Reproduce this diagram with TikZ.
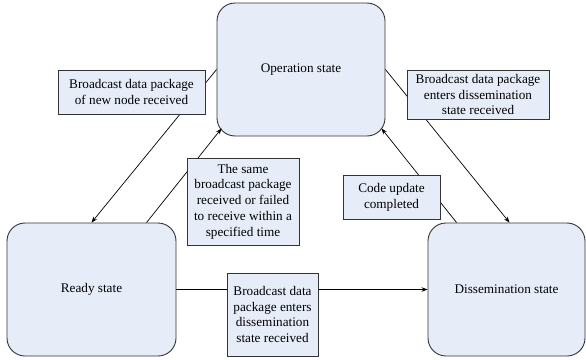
\documentclass[tikz,border=0pt]{standalone}
\usepackage{fontspec}
\setmainfont{Liberation Serif}
\usetikzlibrary{arrows.meta,calc}
\definecolor{boxfill}{HTML}{E7EDF8}
\definecolor{boxline}{HTML}{333333}
\tikzset{
  txt/.style={font=\fontsize{13.2}{15.8}\selectfont, text=black},
  statebox/.style={txt, draw=boxline, fill=boxfill, line width=0.9pt, rounded corners=18pt, inner sep=0pt},
  labelbox/.style={txt, draw=boxline, fill=boxfill, line width=0.8pt, inner sep=0pt, align=center},
  conn/.style={draw=black, line width=0.7pt},
  arr/.style={conn, -{Stealth[length=6pt,width=4.5pt]}}
}
\begin{document}
\begin{tikzpicture}[x=1pt,y=-1pt]
\useasboundingbox (0,0) rectangle (586,359);
% states
\node[statebox, minimum width=168pt, minimum height=133pt] (op) at (301,69.5) {Operation state};
\node[statebox, minimum width=169pt, minimum height=133pt] (ready) at (91.5,289.5) {Ready state};
\node[statebox, minimum width=157pt, minimum height=133pt] (diss) at (506.5,289.5) {Dissemination state};
% connectors
\draw[arr] (op.west) -- (ready.north);
\draw[arr] ($(ready.north west)+(140,0)$) -- ($(op.south west)+(5,-8)$);
\draw[arr] (op.east) -- ($(diss.north)+(3,0)$);
\draw[arr] ($(diss.north west)+(29,0)$) -- ($(op.south east)+(-4,-8)$);
\draw[arr] (ready.east) -- (diss.west);
% labels
\node[labelbox, minimum width=147pt, minimum height=44pt] (l1) at (131.5,92) {Broadcast data package\\of new node received};
\node[labelbox, minimum width=142pt, minimum height=49pt] (l2) at (478,94.5) {Broadcast data package\\enters dissemination\\state received};
\node[labelbox, minimum width=112pt, minimum height=87pt] (l3) at (243,201.5) {The same\\broadcast package\\received or failed\\to receive within a\\specified time};
\node[labelbox, minimum width=97pt, minimum height=44pt] (l4) at (391.5,197) {Code update\\completed};
\node[labelbox, minimum width=91pt, minimum height=83pt] (l5) at (272.5,314.5) {Broadcast data\\package enters\\dissemination\\state received};
\end{tikzpicture}
\end{document}
